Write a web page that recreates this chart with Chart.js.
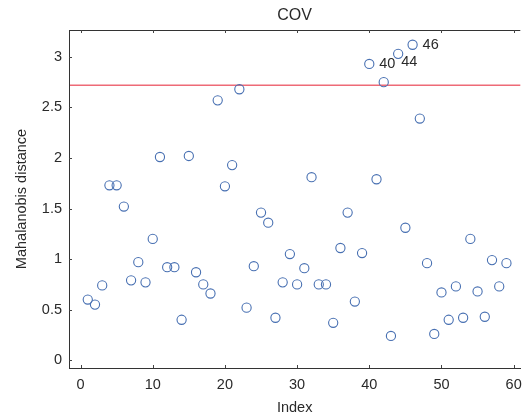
<!DOCTYPE html>
<html><head><meta charset="utf-8">
<script src="https://cdn.jsdelivr.net/npm/chart.js@4.4.1/dist/chart.umd.min.js"></script>
<style>html,body{margin:0;padding:0;background:#fff}</style>
</head><body>
<canvas id="c" width="526" height="419"></canvas>
<script>
const indices = [1,2,3,4,5,6,7,8,9,10,11,12,13,14,15,16,17,18,19,20,21,22,23,24,25,26,27,28,29,30,31,32,33,34,35,36,37,38,39,40,41,42,43,44,45,46,47,48,49,50,51,52,53,54,55,56,57,58,59];
const distances = [0.60,0.55,0.74,1.73,1.73,1.52,0.79,0.97,0.77,1.20,2.01,0.92,0.92,0.40,2.02,0.87,0.75,0.66,2.57,1.72,1.93,2.68,0.52,0.93,1.46,1.36,0.42,0.77,1.05,0.75,0.91,1.81,0.75,0.75,0.37,1.11,1.46,0.58,1.06,2.93,1.79,2.75,0.24,3.03,1.31,3.12,2.39,0.96,0.26,0.67,0.40,0.73,0.42,1.20,0.68,0.43,0.99,0.73,0.96];
const threshold = 2.72;
const outlierLabels = [40, 44, 46];
const titleText = 'COV';
const xTicks = [0,10,20,30,40,50,60];
const yTicks = [0,0.5,1,1.5,2,2.5,3];
const xRange = [-1.6, 60.92];
const yRange = [-0.077, 3.266];

const FONT = "'Liberation Sans', Arial, Helvetica, sans-serif";
const TXT = '#2a2a2a';

const extras = {
  id: 'extras',
  beforeDatasetsDraw(chart) {
    const {ctx, chartArea: a, scales: {x, y}} = chart;
    ctx.save();
    ctx.font = '16px ' + FONT;
    ctx.fillStyle = TXT;
    ctx.textAlign = 'center';
    ctx.textBaseline = 'middle';
    ctx.fillText(titleText, (a.left + a.right) / 2, 16);
    ctx.lineWidth = 1;
    ctx.strokeStyle = '#333';
    ctx.beginPath(); ctx.moveTo(a.left, a.top + 0.5); ctx.lineTo(a.right, a.top + 0.5); ctx.stroke();
    const L = 3;
    ctx.strokeStyle = '#444';
    xTicks.forEach(v => {
      const px = Math.round(x.getPixelForValue(v)) + 0.5;
      ctx.beginPath(); ctx.moveTo(px, a.bottom); ctx.lineTo(px, a.bottom - L); ctx.stroke();
      ctx.beginPath(); ctx.moveTo(px, a.top); ctx.lineTo(px, a.top + L); ctx.stroke();
    });
    yTicks.forEach(v => {
      const py = Math.round(y.getPixelForValue(v)) + 0.5;
      ctx.beginPath(); ctx.moveTo(a.left, py); ctx.lineTo(a.left + L, py); ctx.stroke();
    });
    const ty = y.getPixelForValue(threshold);
    ctx.strokeStyle = 'rgba(235,80,95,0.85)';
    ctx.lineWidth = 1.6;
    ctx.beginPath(); ctx.moveTo(a.left + 1, ty); ctx.lineTo(a.right, ty); ctx.stroke();
    ctx.restore();
  },
  afterDatasetsDraw(chart) {
    const {ctx} = chart;
    const meta = chart.getDatasetMeta(0);
    const offs = {44: [3, 8]};
    ctx.save();
    ctx.font = '14.5px ' + FONT;
    ctx.fillStyle = TXT;
    ctx.textBaseline = 'middle';
    outlierLabels.forEach(idx => {
      const i = indices.indexOf(idx);
      const p = meta.data[i];
      const o = offs[idx] || [10, 0];
      ctx.fillText(String(idx), p.x + o[0], p.y + o[1]);
    });
    ctx.restore();
  }
};

new Chart(document.getElementById('c'), {
  type: 'scatter',
  data: {
    datasets: [{
      data: indices.map((v, i) => ({x: v, y: distances[i]})),
      pointStyle: 'circle',
      pointRadius: 4.6,
      pointHoverRadius: 4.6,
      pointBorderWidth: 1.1,
      borderColor: 'rgb(72,112,178)',
      backgroundColor: 'rgba(0,0,0,0)'
    }]
  },
  options: {
    responsive: false,
    animation: false,
    events: [],
    layout: {padding: {top: 30, left: 0, right: 0, bottom: 0}},
    plugins: {
      legend: {display: false},
      tooltip: {enabled: false},
      title: {display: false}
    },
    scales: {
      x: {
        type: 'linear', min: xRange[0], max: xRange[1],
        afterBuildTicks: s => { s.ticks = xTicks.map(v => ({value: v})); },
        afterFit: s => { s.height = 51; s.paddingLeft = 0; s.paddingRight = 0; },
        grid: {display: false, drawTicks: false},
        border: {display: true, color: '#333', width: 1},
        ticks: {color: TXT, padding: 8, maxRotation: 0, autoSkip: false,
          font: {family: FONT, size: 14.5}, callback: v => String(v)},
        title: {display: true, text: 'Index', color: TXT,
          font: {family: FONT, size: 14.5}, padding: {top: 2, bottom: 2}}
      },
      y: {
        type: 'linear', min: yRange[0], max: yRange[1],
        afterBuildTicks: s => { s.ticks = yTicks.map(v => ({value: v})); },
        afterFit: s => { s.width = 69; s.paddingTop = 0; s.paddingBottom = 0; },
        grid: {display: false, drawTicks: false},
        border: {display: true, color: '#333', width: 1},
        ticks: {color: TXT, padding: 7, autoSkip: false,
          font: {family: FONT, size: 14.5}, callback: v => String(v)},
        title: {display: true, text: 'Mahalanobis distance', color: TXT,
          font: {family: FONT, size: 14.5}, padding: {top: 13, bottom: 0}}
      }
    }
  },
  plugins: [extras]
});
</script>
</body></html>
